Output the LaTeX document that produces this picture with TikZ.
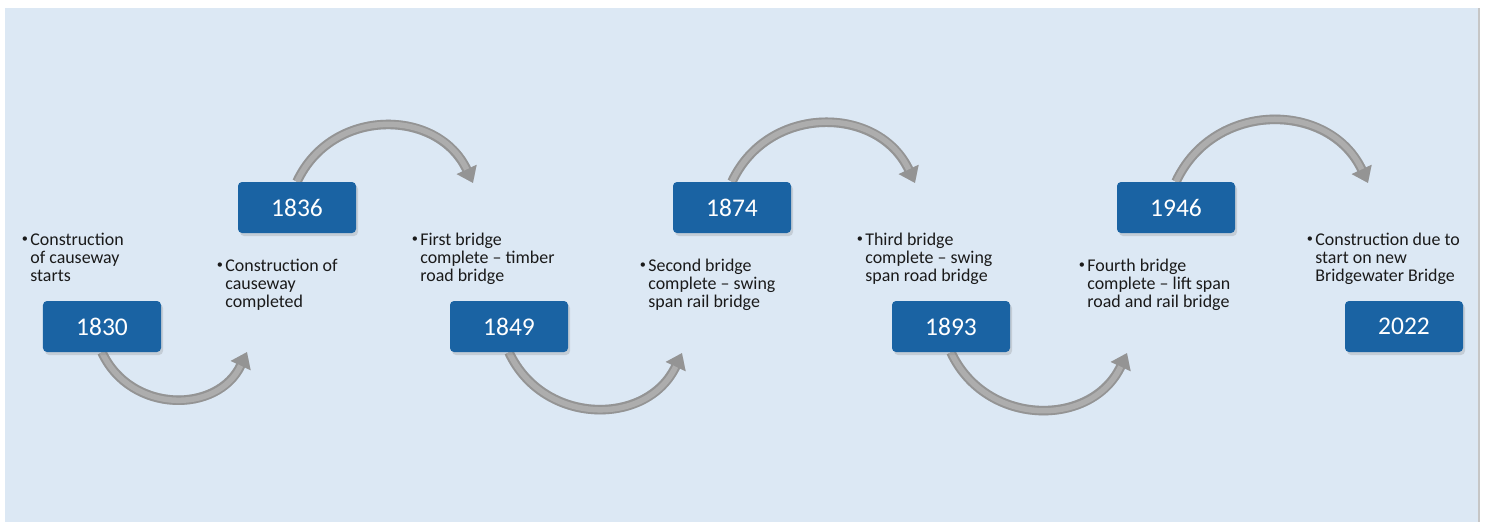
\documentclass[tikz,border=0pt]{standalone}
\usepackage{fontspec}
\setmainfont{Carlito}
\usetikzlibrary{arrows.meta, shadows, backgrounds}

\definecolor{bgblue}{HTML}{DCE8F4}
\definecolor{yearblue}{HTML}{1A63A3}
\definecolor{arrowgray}{HTML}{949494}
\definecolor{arrowlight}{HTML}{ADADAD}
\definecolor{notetext}{HTML}{1A1A1A}

% bullet with hanging lines
\newcommand{\bulletnote}[1]{\makebox[0.2cm][l]{\hspace{0.03cm}\raisebox{0.25ex}{\fontsize{7}{7}\selectfont\textbullet}}\begin{tabular}[t]{@{}l@{}}#1\end{tabular}}

\begin{document}
\begin{tikzpicture}[
        % Style for the year boxes
        year/.style={
            rectangle, rounded corners=0.08cm, fill=yearblue, text=white,
            minimum width=2.36cm, minimum height=1.02cm,
            font=\fontsize{14.5}{16}\selectfont,
            drop shadow={opacity=0.25, shadow xshift=0.04cm, shadow yshift=-0.06cm}
        },
        % Style for the bullet notes
        note/.style={
            anchor=base west, inner sep=0, text=notetext,
            font=\fontsize{10.2}{10.25}\selectfont
        },
        % Curved grey arrows
        turn/.style={
            line width=0.19cm, draw=arrowgray, looseness=1.2,
            -{Triangle[width=0.42cm, length=0.3cm]}
        },
        turnhi/.style={line width=0.11cm, draw=arrowlight, looseness=1.2, shorten >=0.3cm},
        turnshadow/.style={turn, draw=black, opacity=0.12, shift={(0.03,-0.06)}}
    ]

        \useasboundingbox (0,0) rectangle (29.72,-10.44);

        % 1. Years
        \node[year] (y1830) at (2.04, -6.53)  {1830};
        \node[year] (y1836) at (5.94, -4.15)  {1836};
        \node[year] (y1849) at (10.18, -6.53) {1849};
        \node[year] (y1874) at (14.64, -4.15) {1874};
        \node[year] (y1893) at (19.02, -6.53) {1893};
        \node[year] (y1946) at (23.52, -4.15) {1946};
        \node[year] (y2022) at (28.08, -6.53) {2022};

        % 2. Notes
        \node[note] (n1830) at (0.40, -4.90)  {\bulletnote{Construction\\of causeway\\starts}};
        \node[note] (n1836) at (4.30, -5.42)  {\bulletnote{Construction of\\causeway\\completed}};
        \node[note] (n1849) at (8.20, -4.90)  {\bulletnote{First bridge\\complete -- timber\\road bridge}};
        \node[note] (n1874) at (12.76, -5.42) {\bulletnote{Second bridge\\complete -- swing\\span rail bridge}};
        \node[note] (n1893) at (17.10, -4.90) {\bulletnote{Third bridge\\complete -- swing\\span road bridge}};
        \node[note] (n1946) at (21.54, -5.42) {\bulletnote{Fourth bridge\\complete -- lift span\\road and rail bridge}};
        \node[note] (n2022) at (26.10, -4.90) {\bulletnote{Construction due to\\start on new\\Bridgewater Bridge}};

        % 3. Arrow tips
        \coordinate (tip1830) at (4.94, -7.04);
        \coordinate (tip1836) at (9.46, -3.66);
        \coordinate (tip1849) at (13.64, -7.06);
        \coordinate (tip1874) at (18.30, -3.66);
        \coordinate (tip1893) at (22.54, -7.06);
        \coordinate (tip1946) at (27.36, -3.66);

        % 4. Background and arrows behind the boxes
        \begin{scope}[on background layer]
            \fill[bgblue] (0.10, -0.16) rectangle (29.58, -10.44);
            \draw[gray!45, line width=0.03cm] (29.58, -0.16) -- (29.58, -10.44);

            \foreach \from/\tip in {y1830/tip1830, y1849/tip1849, y1893/tip1893} {
                \draw[turnshadow] (\from.south) to[out=-65, in=-115] (\tip);
                \draw[turn]       (\from.south) to[out=-65, in=-115] (\tip);
                \draw[turnhi]     (\from.south) to[out=-65, in=-115] (\tip);
            }
            \foreach \from/\tip in {y1836/tip1836, y1874/tip1874, y1946/tip1946} {
                \draw[turnshadow] (\from.north) to[out=65, in=115] (\tip);
                \draw[turn]       (\from.north) to[out=65, in=115] (\tip);
                \draw[turnhi]     (\from.north) to[out=65, in=115] (\tip);
            }
        \end{scope}

\end{tikzpicture}
\end{document}
